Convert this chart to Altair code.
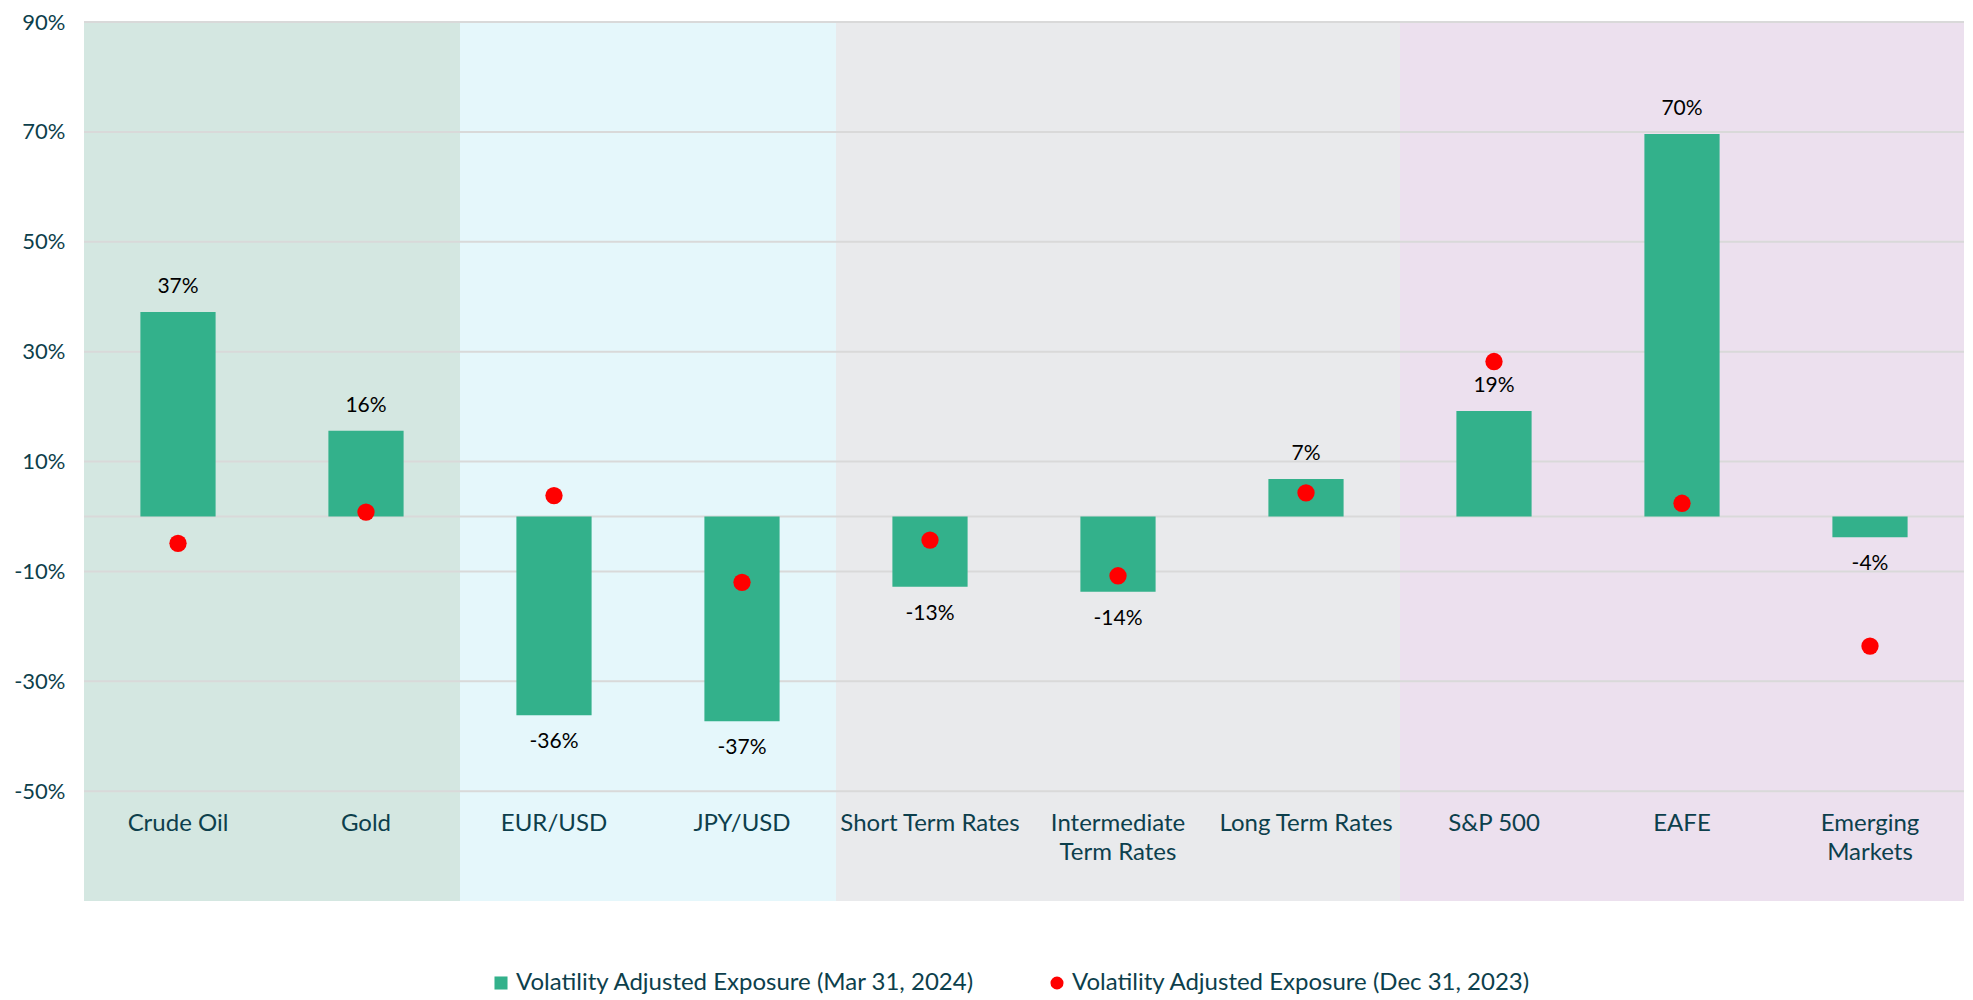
import altair as alt
import pandas as pd

categories = ["Crude Oil", "Gold", "EUR/USD", "JPY/USD", "Short Term Rates",
              "Intermediate|Term Rates", "Long Term Rates", "S&P 500", "EAFE",
              "Emerging|Markets"]
exposure_mar24 = [37.2, 15.6, -36.2, -37.3, -12.8, -13.7, 6.8, 19.2, 69.6, -3.8]
exposure_dec23 = [-4.9, 0.8, 3.8, -12.0, -4.3, -10.8, 4.3, 28.2, 2.4, -23.6]
series_names = ["Volatility Adjusted Exposure (Mar 31, 2024)",
                "Volatility Adjusted Exposure (Dec 31, 2023)"]
y_tick_values = [90, 70, 50, 30, 10, -10, -30, -50]
grid_values = [90, 70, 50, 30, 10, 0, -10, -30, -50]
band_start = [0, 2, 4, 7]
band_end = [2, 4, 7, 10]
band_colors = ["#D4E7E1", "#E5F7FB", "#E9EAEC", "#ECE0EE"]

BAR = "#33B18B"
DOT = "#FF0000"
TEXT = "#0D3F4C"
FONT = "Lato"

df = pd.DataFrame({
    "category": categories * 2,
    "series": [series_names[0]] * len(categories) + [series_names[1]] * len(categories),
    "value": exposure_mar24 + exposure_dec23,
})
bands = pd.DataFrame({"start": band_start, "end": band_end, "color": band_colors,
                      "lo": [-70] * 4, "hi": [90] * 4})
grid = pd.DataFrame({"g": grid_values})

yscale = alt.Scale(domain=[-70, 90], nice=False, zero=False)
xscale = alt.Scale(domain=categories, paddingInner=0.6, paddingOuter=0.3)
yaxis = alt.Axis(values=y_tick_values, labelExpr="datum.value + '%'",
                 grid=False, domain=False, ticks=False, title=None,
                 labelFont=FONT, labelFontSize=22, labelColor=TEXT,
                 labelPadding=19)

band_layer = alt.Chart(bands).mark_rect().encode(
    x=alt.X("start:Q", scale=alt.Scale(domain=[0, 10], nice=False, zero=False), axis=None),
    x2="end:Q",
    y=alt.Y("lo:Q", scale=yscale, axis=yaxis),
    y2="hi:Q",
    fill=alt.Fill("color:N", scale=None, legend=None),
)

grid_layer = alt.Chart(grid).mark_rule(color="#D9D9D9", strokeWidth=2).encode(
    y=alt.Y("g:Q", scale=yscale, axis=yaxis),
)

color_scale = alt.Scale(domain=series_names, range=[BAR, DOT])
shape_scale = alt.Scale(domain=series_names, range=["square", "circle"])
legend = alt.Legend(title=None, orient="none", direction="horizontal",
                    legendX=405, legendY=949,
                    labelFont=FONT, labelFontSize=24, labelColor=TEXT,
                    symbolSize=170, labelOffset=3, columnPadding=70,
                    symbolStrokeWidth=0, labelLimit=700)

xaxis = alt.Axis(title=None, labelAngle=0, domain=False, ticks=False,
                 labelFont=FONT, labelFontSize=24, labelColor=TEXT,
                 labelExpr="split(datum.label, '|')", labelLineHeight=29,
                 labelBaseline="top", labelPadding=2, offset=-92, zindex=1,
                 labelLimit=300)

bars = alt.Chart(df).transform_filter(
    alt.datum.series == series_names[0]
).mark_bar(strokeWidth=0).encode(
    x=alt.X("category:N", scale=xscale, sort=categories, axis=xaxis),
    y=alt.Y("value:Q", scale=yscale),
    color=alt.Color("series:N", scale=color_scale, legend=legend),
)

dots = alt.Chart(df).transform_filter(
    alt.datum.series == series_names[1]
).mark_point(filled=True, size=300, opacity=1, strokeWidth=0).encode(
    x=alt.X("category:N", scale=xscale, sort=categories),
    y=alt.Y("value:Q", scale=yscale),
    color=alt.Color("series:N", scale=color_scale, legend=legend),
    shape=alt.Shape("series:N", scale=shape_scale, legend=legend),
)

label_base = alt.Chart(df).transform_filter(
    alt.datum.series == series_names[0]
).transform_calculate(
    lab="toString(round(datum.value)) + '%'"
)
pos_labels = label_base.transform_filter(alt.datum.value >= 0).mark_text(
    font=FONT, fontSize=21, color="#000000", dy=-25
).encode(
    x=alt.X("category:N", scale=xscale, sort=categories),
    y=alt.Y("value:Q", scale=yscale),
    text="lab:N",
)
neg_labels = label_base.transform_filter(alt.datum.value < 0).mark_text(
    font=FONT, fontSize=21, color="#000000", dy=27
).encode(
    x=alt.X("category:N", scale=xscale, sort=categories),
    y=alt.Y("value:Q", scale=yscale),
    text="lab:N",
)

main = alt.layer(grid_layer, bars, dots, pos_labels, neg_labels)

chart = alt.layer(band_layer, main).resolve_scale(x="independent").properties(
    width=1880, height=879,
    padding={"left": 5, "top": 3, "right": 0, "bottom": 0},
    background="white",
).configure_view(stroke=None)

chart.save("out.html", embed_options={"renderer": "svg", "actions": False})
